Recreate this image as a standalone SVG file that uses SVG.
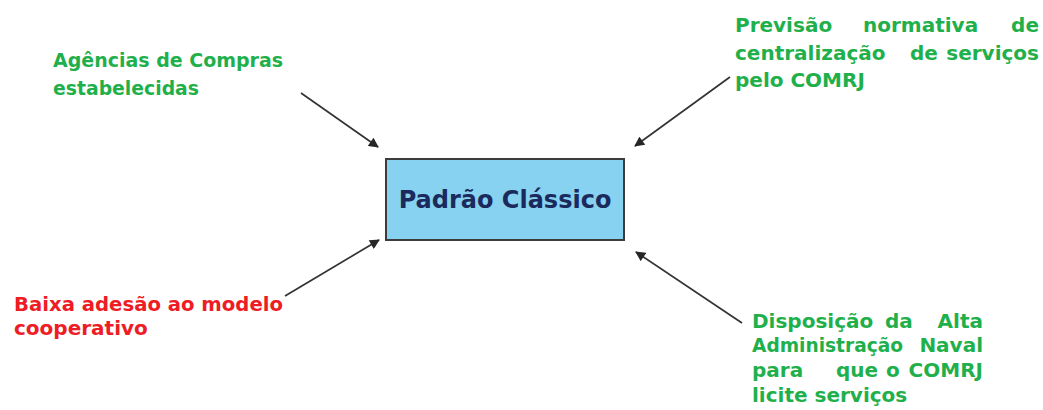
<svg xmlns="http://www.w3.org/2000/svg" width="1043" height="410" viewBox="0 0 1043 410">
<style>
  text { font-family: "DejaVu Sans", "Liberation Sans", sans-serif; font-weight: bold; font-size: 20px; }
  .g { fill: #1fb04c; }
  .r { fill: #ee1c24; }
  .title { fill: #1b2a5c; font-size: 24px; }
  .box { fill: #87d2f0; stroke: #3c3c3c; stroke-width: 2; }
  .conn line { stroke: #333333; stroke-width: 1.7; marker-end: url(#arr); }
</style>
<defs>
  <marker id="arr" viewBox="0 0 10 10" refX="9" refY="5" markerWidth="11" markerHeight="10" markerUnits="userSpaceOnUse" orient="auto">
    <path d="M0,0 L10,5 L0,10 z" fill="#262626"/>
  </marker>
</defs>
<rect width="1043" height="410" fill="#ffffff"/>
<g id="center">
  <rect class="box" x="386" y="159" width="238" height="81"/>
  <text class="title" x="505" y="208" text-anchor="middle">Padrão Clássico</text>
</g>
<g id="agencias">
  <text class="g" x="53" y="67" textLength="230" lengthAdjust="spacingAndGlyphs">Agências de Compras</text>
  <text class="g" x="53" y="95" textLength="146" lengthAdjust="spacingAndGlyphs">estabelecidas</text>
</g>
<g id="previsao">
  <text class="g" x="735" y="32">Previsão</text>
  <text class="g" x="863" y="32">normativa</text>
  <text class="g" x="1039" y="32" text-anchor="end">de</text>
  <text class="g" x="735" y="60">centralização</text>
  <text class="g" x="910" y="60">de</text>
  <text class="g" x="1039" y="60" text-anchor="end">serviços</text>
  <text class="g" x="735" y="87">pelo COMRJ</text>
</g>
<g id="baixa">
  <text class="r" x="14" y="311" textLength="269" lengthAdjust="spacingAndGlyphs">Baixa adesão ao modelo</text>
  <text class="r" x="14" y="335">cooperativo</text>
</g>
<g id="disposicao">
  <text class="g" x="752" y="328">Disposição</text>
  <text class="g" x="885" y="328">da</text>
  <text class="g" x="983" y="328" text-anchor="end">Alta</text>
  <text class="g" x="752" y="352" textLength="151" lengthAdjust="spacingAndGlyphs">Administração</text>
  <text class="g" x="983" y="352" text-anchor="end">Naval</text>
  <text class="g" x="752" y="377">para</text>
  <text class="g" x="836" y="377">que</text>
  <text class="g" x="886" y="377">o</text>
  <text class="g" x="983" y="377" text-anchor="end">COMRJ</text>
  <text class="g" x="752" y="402">licite serviços</text>
</g>
<g id="connectors" class="conn">
  <line x1="301" y1="93" x2="378" y2="147"/>
  <line x1="730" y1="77" x2="635" y2="146"/>
  <line x1="285" y1="296" x2="379" y2="240"/>
  <line x1="742" y1="323" x2="636" y2="252"/>
</g>
</svg>
